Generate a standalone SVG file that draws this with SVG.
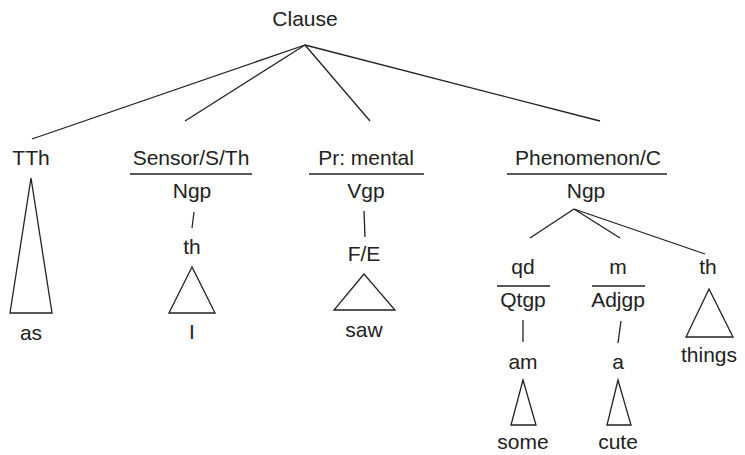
<svg xmlns="http://www.w3.org/2000/svg" width="745" height="455" viewBox="0 0 745 455">
<style>
text{font-family:"Liberation Sans",Arial,sans-serif;font-size:21px;fill:#222;text-anchor:middle}
line,polygon{stroke:#222;stroke-width:1.3;fill:none}
</style>
<rect width="745" height="455" fill="#fff"/>
<g id="connectors">
<line x1="305" y1="45" x2="32" y2="139"/>
<line x1="305" y1="45" x2="185" y2="121"/>
<line x1="305" y1="45" x2="370" y2="121"/>
<line x1="305" y1="45" x2="600" y2="121"/>
<line x1="194" y1="212" x2="192" y2="228"/>
<line x1="364" y1="211" x2="365" y2="237"/>
<line x1="574" y1="209" x2="530" y2="238"/>
<line x1="574" y1="209" x2="620" y2="238"/>
<line x1="574" y1="209" x2="705" y2="254"/>
<line x1="523" y1="320" x2="523" y2="342"/>
<line x1="621" y1="321" x2="618" y2="343"/>
</g>
<g id="clause"><text x="305" y="26">Clause</text></g>
<g id="tth">
<text x="31" y="165">TTh</text>
<polygon points="31,178 10,313 52,313"/>
<text x="31" y="340">as</text>
</g>
<g id="sensor">
<text x="191" y="165">Sensor/S/Th</text>
<line x1="130" y1="174" x2="252" y2="174"/>
<text x="192" y="198">Ngp</text>
<text x="192" y="254">th</text>
<polygon points="192,267 169,313 215,313"/>
<text x="192" y="339">I</text>
</g>
<g id="process">
<text x="366" y="165">Pr: mental</text>
<line x1="309" y1="174" x2="424" y2="174"/>
<text x="366" y="198">Vgp</text>
<text x="364" y="261">F/E</text>
<polygon points="364,274 334,310 395,310"/>
<text x="364" y="337">saw</text>
</g>
<g id="phenomenon">
<text x="588" y="165">Phenomenon/C</text>
<line x1="507" y1="174" x2="667" y2="174"/>
<text x="586" y="198">Ngp</text>
</g>
<g id="qd">
<text x="523" y="274">qd</text>
<line x1="497" y1="286" x2="550" y2="286"/>
<text x="523" y="307">Qtgp</text>
<text x="523" y="369">am</text>
<polygon points="523,380 511,425 536,425"/>
<text x="523" y="449">some</text>
</g>
<g id="m">
<text x="618" y="274">m</text>
<line x1="592" y1="286" x2="645" y2="286"/>
<text x="618" y="307">Adjgp</text>
<text x="618" y="369">a</text>
<polygon points="618,380 607,425 631,425"/>
<text x="618" y="449">cute</text>
</g>
<g id="th">
<text x="708" y="274">th</text>
<polygon points="709,289 686,337 733,337"/>
<text x="709" y="362">things</text>
</g>
</svg>
